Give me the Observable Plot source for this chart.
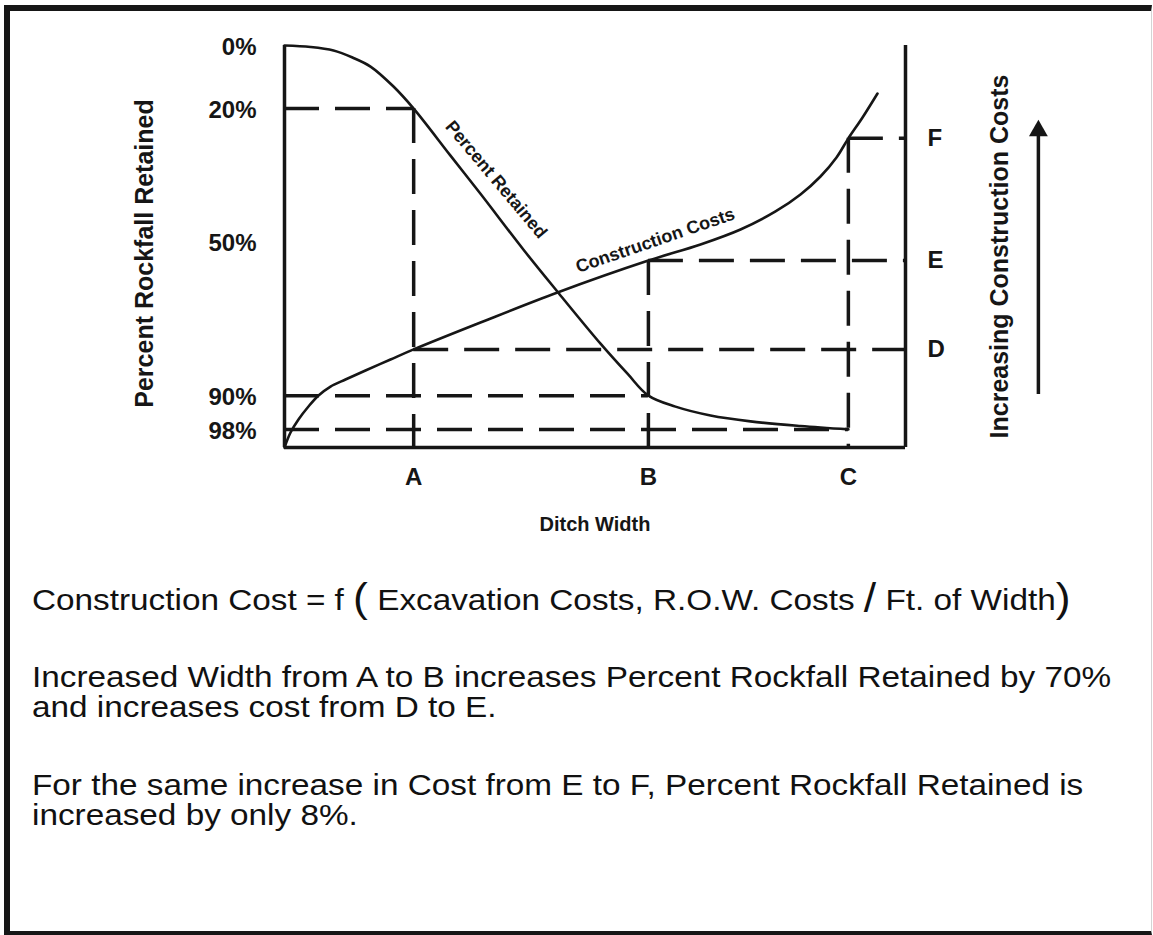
<!DOCTYPE html>
<html>
<head>
<meta charset="utf-8">
<script src="https://cdn.jsdelivr.net/npm/d3@7"></script>
<script src="https://cdn.jsdelivr.net/npm/@observablehq/plot@0.6"></script>
<style>
  html, body { margin: 0; padding: 0; background: #fff; }
  #page { position: relative; width: 1153px; height: 935px; overflow: hidden; background: #fff;
          font-family: "Liberation Sans", Arial, sans-serif; color: #111; }
  #frame { position: absolute; left: 4px; top: 5px; width: 1148px; height: 930px; box-sizing: border-box;
           border-top: 6px solid #161616; border-left: 6px solid #161616; border-bottom: 4px solid #161616;
           border-right: 1px solid #d4d4d4; }
  #chart { position: absolute; left: 0; top: 0; }
  .note { position: absolute; left: 32px; font-size: 30px; line-height: 30px; white-space: nowrap; color: #111;
          transform: scaleX(1.11); transform-origin: 0 0; }
  .big { font-size: 40px; line-height: 0; position: relative; top: 2px; }
</style>
</head>
<body>
<div id="page">
  <div id="frame"></div>
  <div id="chart"></div>
  <div id="notes"></div>
</div>
<script>
// ---------------- data ----------------
// Ditch width positions (width units: 0 = left axis, 100 = right axis)
const widthTicks = [20.8, 58.6, 90.8];
const widthLabels = ["A", "B", "C"];

// Percent rockfall retained axis (hand-drawn, not linear): value -> height on the 0-100 chart scale
const pctTicks = [0, 20, 50, 90, 98];
const pctAxisValues = [0, 20, 50, 90, 98, 100];
const pctAxisHeights = [100, 84.3, 51.2, 12.9, 4.5, 0];

// Construction cost axis (cost index 0-100, bottom to top)
const costTicks = [24.4, 46.5, 76.9];
const costLabels = ["D", "E", "F"];

// Percent Retained curve
const retainedX   = [0, 4.19, 7.89, 10.95, 13.85, 17.55, 20.8, 26.73, 31.56, 38.49, 43.96, 50.89, 55.23, 58.6, 62.96, 68.6, 75.04, 83.09, 90.8];
const retainedPct = [0, 0.48, 1.59, 3.81, 6.67, 13.0, 20, 30.6, 39.2, 52.1, 63.0, 76.5, 84.3, 90, 92.6, 94.7, 96.1, 97.2, 98];

// Construction Costs curve
const costX = [0, 0.97, 2.25, 3.86, 5.48, 7.41, 9.82, 13.04, 17.07, 20.8, 31.56, 43.96, 58.6, 66.99, 73.43, 79.07, 83.09, 86.31, 88.89, 90.8, 93.08, 95.49];
const costY = [0, 3.73, 6.97, 10.20, 12.94, 15.17, 16.92, 19.15, 21.89, 24.4, 31.09, 38.56, 46.5, 50.50, 54.23, 58.71, 62.94, 67.41, 72.14, 76.9, 82.09, 88.06];

// percent retained read at A, B, C
const pctAtTicks = [20, 90, 98];

// "increasing cost" arrow beside the cost axis
const costArrow = { x: 121.4, from: 13.2, to: 77.8, tip: 78.8 };

// curve labels: [x, value]
const retainedLabelAt = [34.1, 36.0];
const costLabelAt = [59.7, 51.5];

const notes = [
  ["Construction Cost = f ", "(", " Excavation Costs, R.O.W. Costs ", "/", " Ft. of Width", ")"],
  ["Increased Width from A to B increases Percent Rockfall Retained by 70%", "and increases cost from D to E."],
  ["For the same increase in Cost from E to F, Percent Rockfall Retained is", "increased by only 8%."]
];

// ---------------- derived ----------------
const pctToY = d3.scaleLinear().domain(pctAxisValues).range(pctAxisHeights);
const retained = retainedX.map((x, i) => ({ x, pct: retainedPct[i] }));
const cost = costX.map((x, i) => ({ x, cost: costY[i] }));
const pctGuides = widthTicks.map((x, i) => ({ x, pct: pctAtTicks[i] }));
const costGuides = widthTicks.map((x, i) => ({ x, cost: costTicks[i] }));
const pctTickPos = pctTicks.map(pctToY);

// ---------------- chart ----------------
const W = 1153, H = 560;
const ink = "#161616";
const dash = "35,16";
const font = "'Liberation Sans', Arial, sans-serif";

const chart = Plot.plot({
  width: W, height: H,
  marginLeft: 284, marginRight: W - 905, marginTop: 45, marginBottom: H - 447,
  style: { background: "transparent", fontFamily: font, fontSize: "24px", fontWeight: "bold", color: ink, overflow: "visible" },
  x: { domain: [0, 100] },
  y: { domain: [0, 100] },
  marks: [
    // guide lines
    Plot.ruleY(pctGuides, { y: d => pctToY(d.pct), x1: 0, x2: "x", stroke: ink, strokeWidth: 3.5, strokeDasharray: dash }),
    Plot.ruleX(pctGuides.slice(0, 1), { x: "x", y1: d => pctToY(d.pct), y2: 0, stroke: ink, strokeWidth: 3.5, strokeDasharray: dash }),
    Plot.ruleY(costGuides, { y: "cost", x1: "x", x2: 100, stroke: ink, strokeWidth: 3.5, strokeDasharray: dash }),
    Plot.ruleX(costGuides.slice(1), { x: "x", y1: "cost", y2: 0, stroke: ink, strokeWidth: 3.5, strokeDasharray: dash }),
    // curves
    Plot.line(retained, { x: "x", y: d => pctToY(d.pct), curve: "catmull-rom", stroke: ink, strokeWidth: 2.6 }),
    Plot.line(cost, { x: "x", y: "cost", curve: "catmull-rom", stroke: ink, strokeWidth: 2.6 }),
    Plot.text([retainedLabelAt], { x: d => d[0], y: d => pctToY(d[1]), text: () => "Percent Retained", rotate: 50, fontSize: 18, fontWeight: "bold", fill: ink }),
    Plot.text([costLabelAt], { x: d => d[0], y: d => d[1], text: () => "Construction Costs", rotate: -19, fontSize: 18, fontWeight: "bold", fill: ink }),
    // frame: left, right and bottom axis lines
    Plot.ruleX([0, 100], { y1: 0, y2: 100, stroke: ink, strokeWidth: 3.5 }),
    Plot.ruleY([0], { x1: 0, x2: 100, stroke: ink, strokeWidth: 3.5 }),
    // axes
    Plot.axisY(pctTickPos, { anchor: "left", tickSize: 0, tickPadding: 28, dy: 2, label: null,
      tickFormat: d => pctTicks[pctTickPos.indexOf(d)] + "%", fill: ink }),
    Plot.axisY(costTicks, { anchor: "right", tickSize: 0, tickPadding: 22, label: null,
      tickFormat: d => costLabels[costTicks.indexOf(d)], fill: ink }),
    Plot.axisX(widthTicks, { anchor: "bottom", tickSize: 0, tickPadding: 20, label: null,
      tickFormat: d => widthLabels[widthTicks.indexOf(d)], fill: ink }),
    // titles
    Plot.text(["Ditch Width"], { frameAnchor: "bottom", dy: 83, textAnchor: "middle", fontSize: 20, fontWeight: "bold", fill: ink }),
    Plot.text(["Percent Rockfall Retained"], { frameAnchor: "left", dx: -140, dy: 7, textAnchor: "middle", rotate: -90, fontSize: 25, fontWeight: "bold", fill: ink }),
    Plot.text(["Increasing Construction Costs"], { frameAnchor: "right", dx: 94, dy: 10, textAnchor: "middle", rotate: -90, fontSize: 25, fontWeight: "bold", fill: ink }),
    // arrow
    Plot.ruleX([costArrow], { x: "x", y1: "from", y2: "to", stroke: ink, strokeWidth: 3.5 }),
    Plot.dot([costArrow], { x: "x", y: "tip", symbol: "triangle", r: 7, fill: ink, stroke: null })
  ]
});
document.getElementById("chart").appendChild(chart);

// ---------------- notes below the chart ----------------
const notesDiv = document.getElementById("notes");
const tops = [585, 662, 770];
notes.forEach((lines, k) => {
  const p = document.createElement("div");
  p.className = "note";
  p.style.top = tops[k] + "px";
  if (k === 0) {
    lines.forEach(part => {
      const s = document.createElement("span");
      if (part === "(" || part === ")" || part === "/") s.className = "big";
      s.textContent = part;
      p.appendChild(s);
    });
  } else {
    lines.forEach((line, j) => {
      if (j > 0) p.appendChild(document.createElement("br"));
      p.appendChild(document.createTextNode(line));
    });
  }
  notesDiv.appendChild(p);
});
</script>
</body>
</html>
